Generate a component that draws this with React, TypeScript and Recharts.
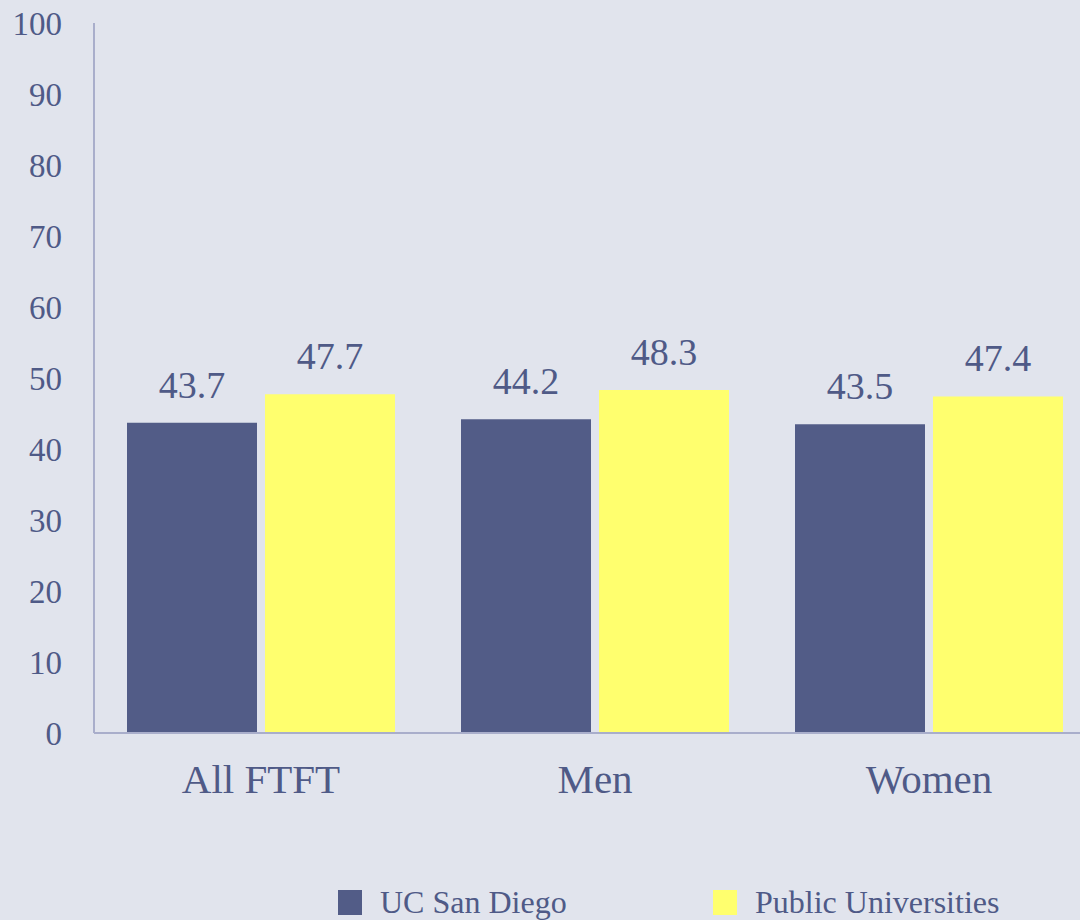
import { BarChart, Bar, XAxis, YAxis, LabelList, Legend } from 'recharts';

// Kategorien und Werte
const categories = ['All FTFT', 'Men', 'Women'];
const ucsd = [43.7, 44.2, 43.5];
const publicUnis = [47.7, 48.3, 47.4];
const yTicks = [0, 10, 20, 30, 40, 50, 60, 70, 80, 90, 100];

const seriesNames = { ucsd: 'UC San Diego', pub: 'Public Universities' };
const colors = { ucsd: '#525c87', pub: '#ffff6e' };

const BG = '#e1e4ed';
const TEXT = '#4f5a87';
const AXIS = '#a9aecb';
const FONT = 'Liberation Serif, DejaVu Serif, serif';

const data = categories.map((c, i) => ({ name: c, ucsd: ucsd[i], pub: publicUnis[i] }));

function LegendBox() {
  const items = [
    { label: seriesNames.ucsd, color: colors.ucsd, left: 338 },
    { label: seriesNames.pub, color: colors.pub, left: 713 },
  ];
  return (
    <div style={{ position: 'relative', height: 40 }}>
      {items.map(it => (
        <div key={it.label} style={{ position: 'absolute', left: it.left, top: 0, display: 'flex', alignItems: 'center' }}>
          <span style={{ display: 'inline-block', width: 24, height: 25, background: it.color }} />
          <span style={{ marginLeft: 18, fontFamily: FONT, fontSize: 32, color: TEXT, lineHeight: '32px' }}>{it.label}</span>
        </div>
      ))}
    </div>
  );
}

export default function App() {
  return (
    <div style={{ position: 'absolute', left: 0, top: 0, width: 1080, height: 920, overflow: 'hidden', background: BG, fontFamily: FONT }}>
      <BarChart width={1110} height={920} data={data} margin={{ top: 23, right: 14, bottom: 87, left: 0 }}
        barCategoryGap={33} barGap={8}>
        <YAxis domain={[0, 100]} ticks={yTicks} width={94} interval={0}
          axisLine={{ stroke: AXIS, strokeWidth: 2 }} tickLine={false} tickSize={0} tickMargin={32}
          tick={{ fill: TEXT, fontSize: 33, fontFamily: FONT }} />
        <XAxis dataKey="name" height={60}
          axisLine={{ stroke: AXIS, strokeWidth: 2 }} tickLine={false} tickSize={0} tickMargin={31}
          tick={{ fill: TEXT, fontSize: 41, fontFamily: FONT }} />
        <Legend verticalAlign="bottom" align="left" wrapperStyle={{ left: 0, bottom: -6, width: 1080 }}
          content={() => <LegendBox />} />
        <Bar dataKey="ucsd" name={seriesNames.ucsd} fill={colors.ucsd} isAnimationActive={false}>
          <LabelList dataKey="ucsd" position="top" offset={25} fill={TEXT} fontSize={38} fontFamily={FONT} />
        </Bar>
        <Bar dataKey="pub" name={seriesNames.pub} fill={colors.pub} isAnimationActive={false}>
          <LabelList dataKey="pub" position="top" offset={25} fill={TEXT} fontSize={38} fontFamily={FONT} />
        </Bar>
      </BarChart>
    </div>
  );
}
